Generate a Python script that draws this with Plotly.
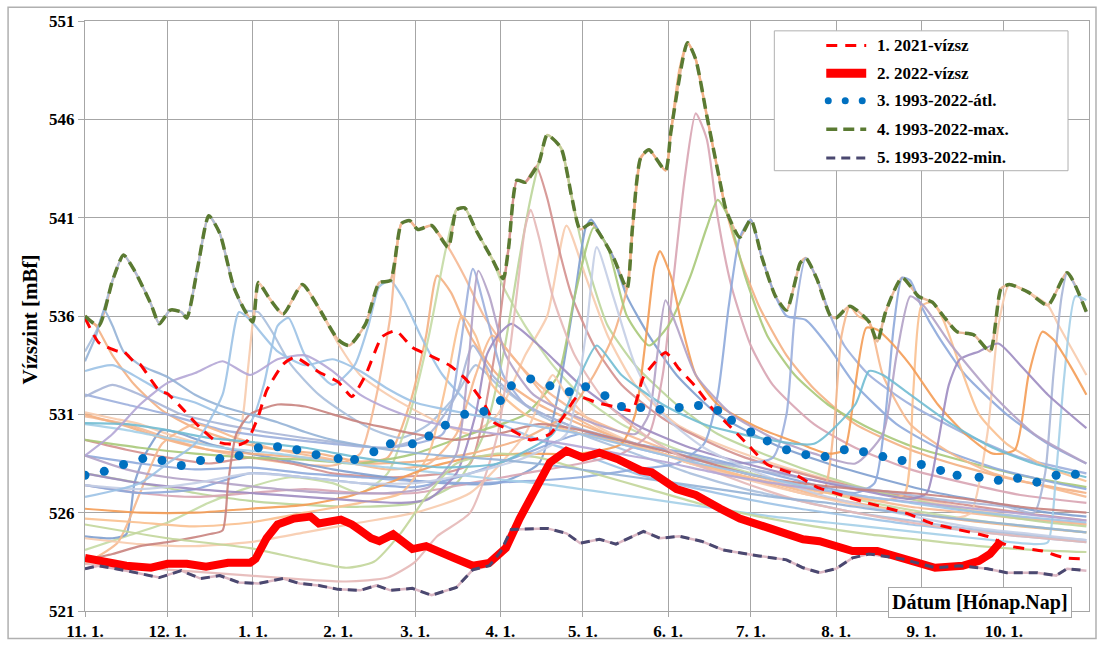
import pandas as pd
import plotly.graph_objects as go

# ---------------- data (day 0 = Nov 1, hydrological year) ----------------
START = "2021-11-01"
MONTH_LABELS = ["11. 1.", "12. 1.", "1. 1.", "2. 1.", "3. 1.", "4. 1.",
                "5. 1.", "6. 1.", "7. 1.", "8. 1.", "9. 1.", "10. 1."]
Y_TICKS = [521, 526, 531, 536, 541, 546, 551]

# 2021 water level
D2021 = [0, 5, 12, 14, 18, 20, 24, 27, 30, 36, 42, 48, 56, 59, 63, 66, 72, 76, 78, 85, 92, 97,
         102, 108, 113, 119, 126, 133, 139, 145, 149, 155, 162, 169, 174, 179, 186, 192, 199,
         203, 211, 216, 222, 228, 234, 241, 248, 258, 266, 275, 283, 299, 308, 317, 328, 336,
         348, 356, 363]
V2021 = [535.9, 534.65, 534.2, 534.2, 533.65, 533.55, 532.75, 532.2, 532.05, 531.2, 530.3, 529.6,
         529.45, 529.65, 530.9, 532.2, 533.55, 533.9, 533.8, 533.15, 532.65, 531.9, 533.0, 534.95,
         535.25, 534.4, 533.95, 533.45, 532.7, 531.55, 530.55, 530.2, 529.7, 530.0, 530.9, 531.9,
         531.6, 531.4, 531.2, 532.9, 534.15, 533.3, 532.4, 531.3, 530.45, 529.45, 528.45, 527.95,
         527.3, 526.9, 526.55, 525.95, 525.45, 525.15, 524.8, 524.3, 524.05, 523.7, 523.65]

# 2022 water level
D2022 = [0, 5, 15, 24, 30, 37, 44, 52, 60, 62, 66, 70, 76, 82, 85, 93, 97, 100, 104, 107, 112,
         119, 124, 134, 141, 147, 153, 158, 164, 169, 175, 181, 187, 194, 202, 206, 215, 222,
         231, 238, 249, 261, 267, 279, 288, 297, 309, 319, 325, 329, 331, 333]
V2022 = [523.7, 523.55, 523.3, 523.2, 523.4, 523.4, 523.25, 523.45, 523.45, 523.65, 524.7, 525.4,
         525.7, 525.8, 525.45, 525.65, 525.4, 525.1, 524.7, 524.55, 524.9, 524.15, 524.3, 523.7,
         523.3, 523.45, 524.2, 525.7, 527.2, 528.55, 529.15, 528.8, 529.05, 528.7, 528.15, 528.05,
         527.2, 526.9, 526.2, 525.7, 525.2, 524.65, 524.55, 524.05, 524.05, 523.7, 523.2, 523.3,
         523.55, 523.9, 524.3, 524.55]

# 1993-2022 average
DAVG = [0, 7, 14, 21, 28, 35, 42, 49, 56, 63, 70, 77, 84, 92, 98, 105, 111, 119, 125, 131, 138,
        145, 151, 155, 162, 169, 176, 182, 189, 195, 202, 209, 216, 223, 230, 235, 242, 248, 255,
        262, 269, 276, 283, 290, 297, 304, 311, 317, 325, 332, 339, 346, 353, 360]
VAVG = [527.9, 528.1, 528.45, 528.75, 528.65, 528.4, 528.65, 528.75, 528.9, 529.3, 529.35, 529.2,
        528.95, 528.75, 528.7, 529.1, 529.5, 529.5, 529.9, 530.45, 531.0, 531.15, 531.7, 532.45,
        532.8, 532.45, 532.15, 532.4, 531.95, 531.4, 531.35, 531.25, 531.35, 531.45, 531.2, 530.7,
        530.1, 529.65, 529.2, 528.95, 528.85, 529.2, 529.1, 528.85, 528.65, 528.45, 528.15, 527.9,
        527.8, 527.65, 527.75, 527.55, 527.9, 527.95]

# 1993-2022 maximum
DMAX = [0, 5, 10, 14, 18, 24, 27, 31, 35, 37, 41, 45, 49, 54, 58, 61, 63, 67, 72, 79, 85, 92, 96,
        102, 107, 111, 115, 118, 121, 126, 132, 135, 138, 142, 148, 152, 154, 157, 160, 165, 168,
        173, 177, 180, 184, 192, 197, 199, 202, 205, 211, 213, 219, 222, 226, 231, 233, 238, 242,
        246, 251, 255, 260, 262, 266, 271, 273, 278, 285, 288, 291, 297, 303, 308, 312, 317, 323,
        329, 333, 336, 343, 350, 357, 364]
VMAX = [536.0, 535.5, 537.8, 539.1, 538.3, 536.6, 535.6, 536.3, 536.2, 535.9, 538.5, 541.1, 540.2,
        537.5, 536.3, 535.7, 537.7, 536.9, 536.1, 537.6, 536.4, 534.8, 534.5, 535.6, 537.7, 537.8,
        540.7, 540.85, 540.4, 540.6, 539.5, 541.4, 541.5, 540.4, 538.9, 537.9, 539.5, 542.9, 542.8,
        543.8, 545.2, 544.55, 542.0, 540.4, 540.7, 539.0, 537.4, 540.5, 544.05, 544.45, 543.4,
        545.4, 549.9, 549.05, 546.2, 542.7, 541.4, 540.0, 540.9, 539.0, 537.0, 536.3, 538.7,
        538.95, 537.9, 536.0, 535.9, 536.5, 535.7, 534.7, 536.2, 537.95, 537.0, 536.7, 536.0,
        535.2, 535.05, 534.2, 537.4, 537.6, 537.2, 536.55, 538.2, 536.2]

# 1993-2022 minimum
DMIN = [0, 5, 15, 27, 35, 42, 49, 56, 63, 72, 78, 85, 92, 100, 106, 111, 119, 126, 135, 141, 147,
        151, 155, 163, 168, 175, 180, 187, 193, 203, 209, 216, 224, 232, 238, 245, 255, 261, 267,
        273, 279, 285, 297, 309, 318, 328, 335, 346, 353, 357, 364]
VMIN = [523.15, 523.3, 523.05, 522.7, 523.05, 522.65, 522.8, 522.45, 522.4, 522.65, 522.4, 522.3,
        522.1, 522.05, 522.3, 522.05, 522.15, 521.8, 522.2, 523.1, 523.3, 524.0, 525.15, 525.2,
        525.2, 524.95, 524.45, 524.65, 524.4, 525.05, 524.7, 524.8, 524.55, 524.1, 523.95, 523.8,
        523.6, 523.2, 522.95, 523.15, 523.7, 523.9, 523.65, 523.2, 523.3, 523.15, 522.95, 522.95,
        522.8, 523.15, 523.05]

# individual years 1993-2020 (background lines)
L01_D = [0, 4, 10, 18, 28, 40, 55, 70, 85, 100, 110, 118, 124, 128, 133, 140, 150, 165, 180, 200, 220, 240, 260, 280, 300, 320, 340, 364]
L01_V = [536.0, 535.5, 534.0, 532.5, 531.2, 530.3, 529.6, 529.2, 529.0, 528.6, 528.8, 531.5, 535.0, 538.05, 537.2, 535.0, 533.0, 531.5, 530.5, 529.5, 528.5, 527.8, 527.0, 526.5, 526.0, 525.6, 525.3, 525.0]
L02_D = [0, 5, 10, 14, 18, 24, 27, 31, 35, 37, 41, 45, 49, 54, 58, 63, 68, 75, 85, 95, 105, 115, 125, 135, 142, 150, 165, 180, 200, 220, 240, 260, 280, 300, 320, 340, 364]
L02_V = [534.2, 535.5, 537.8, 539.1, 538.3, 536.6, 535.6, 536.3, 536.2, 535.9, 538.5, 541.1, 540.2, 537.5, 536.3, 536.2, 535.2, 533.5, 532.0, 531.0, 530.2, 529.8, 530.5, 532.0, 533.5, 532.5, 531.0, 530.0, 529.0, 528.0, 527.2, 526.6, 526.0, 525.6, 525.2, 524.9, 524.6]
L03_D = [0, 10, 20, 30, 40, 50, 56, 59, 61, 63, 67, 72, 79, 85, 92, 100, 110, 120, 130, 140, 150, 160, 168, 175, 182, 190, 200, 215, 230, 250, 270, 290, 310, 330, 350, 364]
L03_V = [531.1, 530.8, 530.5, 530.0, 529.6, 529.4, 530.0, 533.0, 535.7, 537.7, 536.9, 536.1, 537.6, 536.4, 534.6, 533.0, 532.0, 531.2, 530.5, 530.0, 531.0, 534.0, 536.0, 540.6, 538.0, 535.0, 532.5, 530.5, 529.5, 528.5, 527.7, 527.0, 526.5, 526.0, 525.6, 525.4]
L04_D = [0, 10, 20, 30, 40, 50, 60, 65, 70, 74, 80, 90, 98, 103, 107, 111, 116, 122, 130, 140, 150, 165, 180, 200, 220, 240, 260, 280, 300, 320, 340, 364]
L04_V = [533.2, 533.5, 532.8, 532.0, 531.6, 531.0, 530.6, 532.5, 535.5, 535.9, 534.0, 532.5, 533.5, 535.5, 537.5, 537.8, 536.8, 535.0, 533.0, 531.5, 530.6, 529.7, 529.0, 528.0, 527.3, 526.7, 526.2, 525.8, 525.4, 525.1, 524.8, 524.5]
L05_D = [0, 15, 30, 45, 60, 75, 90, 100, 106, 111, 115, 118, 121, 126, 132, 138, 145, 155, 165, 180, 200, 220, 240, 260, 280, 300, 320, 340, 364]
L05_V = [530.9, 530.5, 529.8, 529.2, 528.8, 528.5, 528.4, 529.0, 532.0, 536.0, 540.7, 540.85, 540.4, 540.6, 539.5, 538.0, 536.0, 534.0, 532.5, 531.0, 529.8, 528.8, 528.0, 527.3, 526.8, 526.3, 526.0, 525.7, 525.4]
L06_D = [0, 15, 30, 45, 60, 75, 90, 100, 110, 118, 125, 131, 135, 138, 142, 148, 152, 160, 170, 180, 195, 210, 230, 250, 270, 290, 310, 330, 350, 364]
L06_V = [524.1, 524.8, 525.5, 526.5, 527.3, 527.8, 527.5, 527.0, 528.0, 531.0, 535.0, 539.3, 541.4, 541.5, 540.4, 538.9, 537.5, 535.5, 533.5, 532.0, 530.5, 529.5, 528.5, 527.7, 527.0, 526.4, 525.9, 525.5, 525.2, 525.0]
L07_D = [0, 15, 30, 45, 60, 75, 90, 110, 130, 140, 145, 150, 154, 157, 160, 164, 168, 173, 177, 185, 195, 210, 225, 240, 260, 280, 300, 320, 340, 364]
L07_V = [529.7, 529.2, 528.8, 528.5, 528.8, 528.5, 528.0, 527.8, 528.0, 528.5, 531.0, 535.0, 539.5, 542.9, 542.8, 543.6, 542.0, 539.0, 537.0, 534.5, 532.5, 530.8, 529.7, 528.8, 528.0, 527.3, 526.8, 526.4, 526.0, 525.6]
L08_D = [0, 20, 40, 60, 80, 100, 120, 135, 145, 152, 158, 162, 165, 168, 173, 177, 180, 185, 190, 200, 215, 230, 250, 270, 290, 310, 330, 350, 364]
L08_V = [528.0, 527.5, 527.0, 526.6, 526.4, 526.3, 526.5, 527.5, 530.0, 534.0, 539.0, 542.0, 543.8, 545.2, 544.55, 542.0, 540.0, 537.5, 535.5, 533.5, 531.5, 530.0, 528.8, 527.8, 527.0, 526.4, 525.9, 525.5, 525.3]
L09_D = [0, 10, 15, 18, 22, 28, 35, 45, 60, 75, 90, 110, 130, 150, 165, 172, 178, 182, 184, 188, 192, 197, 205, 215, 230, 250, 270, 290, 310, 330, 350, 364]
L09_V = [524.8, 524.7, 524.9, 527.5, 529.0, 530.2, 530.0, 529.5, 529.0, 528.6, 528.2, 527.8, 527.5, 527.5, 528.5, 532.0, 537.0, 540.5, 540.9, 540.0, 539.0, 537.0, 535.0, 533.0, 531.0, 529.5, 528.5, 527.7, 527.0, 526.5, 526.0, 525.8]
L10_D = [0, 15, 30, 45, 60, 80, 100, 120, 140, 160, 175, 185, 192, 197, 202, 205, 211, 213, 216, 219, 222, 226, 231, 233, 238, 245, 255, 265, 280, 300, 320, 340, 364]
L10_V = [531.0, 530.4, 529.7, 529.2, 529.0, 528.8, 528.5, 528.6, 529.0, 529.8, 531.0, 533.0, 535.0, 537.4, 544.0, 544.45, 543.4, 545.4, 548.5, 549.9, 549.05, 546.2, 542.7, 541.4, 539.0, 536.5, 534.0, 532.3, 530.5, 529.2, 528.3, 527.6, 527.0]
L11_D = [0, 20, 40, 60, 80, 100, 120, 140, 160, 180, 195, 205, 210, 214, 218, 222, 226, 230, 235, 242, 250, 265, 280, 300, 320, 340, 364]
L11_V = [527.4, 527.0, 526.8, 527.0, 527.2, 527.0, 527.0, 527.5, 528.0, 528.5, 529.0, 530.0, 533.0, 538.0, 543.0, 546.3, 545.0, 541.0, 537.5, 534.5, 532.5, 530.5, 529.3, 528.2, 527.5, 526.9, 526.5]
L12_D = [0, 20, 40, 60, 80, 100, 120, 140, 160, 172, 178, 185, 190, 197, 205, 212, 220, 226, 230, 234, 240, 248, 258, 270, 285, 300, 320, 340, 364]
L12_V = [529.7, 529.3, 529.0, 528.8, 528.7, 528.5, 529.0, 530.0, 531.0, 533.0, 537.0, 540.5, 539.5, 536.0, 534.5, 535.5, 538.0, 540.5, 541.9, 541.0, 538.0, 535.0, 533.0, 531.5, 530.3, 529.4, 528.6, 527.9, 527.3]
L13_D = [0, 20, 40, 60, 80, 100, 120, 140, 160, 180, 200, 215, 225, 230, 234, 238, 242, 246, 251, 255, 262, 270, 280, 295, 310, 330, 350, 364]
L13_V = [528.9, 528.5, 528.2, 528.3, 528.0, 527.8, 527.6, 527.5, 527.6, 527.8, 528.2, 528.5, 529.5, 532.0, 536.5, 540.0, 540.9, 539.0, 537.0, 536.0, 535.8, 534.5, 532.5, 530.5, 529.3, 528.3, 527.6, 527.2]
L14_D = [0, 15, 30, 50, 70, 90, 110, 130, 136, 141, 146, 152, 160, 175, 195, 215, 235, 250, 255, 258, 262, 266, 271, 276, 285, 300, 320, 340, 364]
L14_V = [532.0, 531.5, 531.0, 530.2, 529.8, 529.5, 529.3, 530.0, 534.0, 538.4, 536.0, 533.0, 531.5, 530.5, 529.5, 528.8, 528.5, 528.8, 531.0, 536.0, 538.95, 537.9, 536.0, 534.5, 533.0, 531.5, 530.0, 528.8, 528.0]
L15_D = [0, 12, 20, 28, 40, 55, 70, 90, 110, 125, 135, 142, 148, 158, 170, 190, 210, 230, 250, 268, 272, 275, 278, 281, 285, 290, 300, 315, 330, 350, 364]
L15_V = [523.4, 524.5, 527.0, 529.5, 530.5, 529.8, 529.2, 528.7, 528.2, 528.5, 530.0, 533.0, 535.0, 533.5, 531.5, 530.0, 529.0, 528.2, 527.5, 527.0, 530.0, 535.0, 536.5, 536.0, 535.7, 533.0, 530.5, 529.0, 528.0, 527.3, 526.8]
L16_D = [0, 20, 40, 60, 80, 100, 120, 140, 160, 180, 200, 220, 240, 260, 280, 287, 291, 294, 297, 300, 304, 310, 320, 335, 350, 364]
L16_V = [527.4, 527.0, 527.2, 528.0, 527.8, 527.5, 527.3, 528.0, 529.0, 530.0, 529.5, 529.0, 528.3, 527.6, 527.0, 527.5, 531.0, 535.5, 537.95, 537.8, 536.5, 535.0, 533.0, 531.0, 529.5, 528.5]
L17_D = [0, 20, 40, 60, 80, 100, 115, 125, 132, 137, 142, 148, 160, 175, 190, 210, 230, 250, 270, 290, 298, 301, 304, 308, 312, 318, 325, 335, 350, 364]
L17_V = [525.7, 525.5, 525.3, 525.5, 526.0, 526.5, 527.0, 529.0, 533.0, 536.0, 535.0, 532.5, 531.0, 530.2, 529.7, 529.0, 528.2, 527.5, 527.0, 526.6, 527.0, 532.0, 536.5, 536.7, 535.8, 533.5, 531.0, 529.5, 528.3, 527.6]
L18_D = [0, 20, 40, 60, 80, 100, 120, 140, 160, 170, 175, 185, 200, 220, 240, 260, 280, 300, 315, 322, 328, 332, 336, 343, 350, 354, 360, 364]
L18_V = [524.7, 524.4, 524.3, 524.5, 525.0, 525.5, 526.0, 527.0, 530.0, 533.0, 532.0, 530.5, 529.5, 528.5, 527.7, 527.0, 526.4, 526.0, 525.7, 526.0, 530.0, 535.5, 537.6, 537.2, 536.55, 535.5, 534.0, 533.0]
L19_D = [0, 10, 20, 35, 50, 70, 90, 110, 125, 135, 141, 148, 160, 175, 195, 215, 235, 255, 275, 295, 315, 335, 345, 349, 352, 355, 357, 360, 364]
L19_V = [531.9, 532.5, 532.0, 531.0, 530.5, 530.0, 529.6, 529.3, 530.0, 532.0, 534.5, 533.0, 531.5, 530.5, 529.7, 529.0, 528.4, 527.9, 527.4, 527.0, 526.6, 526.3, 526.0, 528.0, 533.0, 537.0, 538.2, 537.5, 536.2]
L20_D = [0, 15, 30, 50, 70, 90, 110, 130, 150, 170, 190, 210, 230, 250, 270, 290, 310, 330, 345, 350, 353, 356, 360, 364]
L20_V = [530.5, 530.2, 529.8, 529.3, 529.0, 528.6, 528.3, 528.0, 527.7, 527.4, 527.0, 526.6, 526.2, 525.8, 525.5, 525.2, 524.9, 524.6, 524.4, 524.5, 528.0, 533.0, 537.0, 536.8]
L21_D = [0, 20, 40, 60, 80, 95, 110, 125, 140, 160, 180, 195, 200, 204, 207, 209, 213, 217, 222, 230, 245, 260, 270, 276, 280, 284, 288, 292, 300, 310, 320, 330, 338, 343, 348, 352, 358, 364]
L21_V = [526.2, 526.0, 526.0, 526.2, 526.4, 526.8, 527.5, 528.3, 528.8, 529.0, 529.0, 529.5, 531.0, 535.0, 538.5, 539.3, 538.0, 535.5, 533.0, 531.5, 530.3, 529.5, 529.0, 529.2, 532.5, 535.4, 535.3, 534.8, 533.5, 531.5, 530.0, 529.0, 529.2, 533.0, 535.2, 534.8, 533.5, 532.0]
L22_D = [0, 20, 40, 60, 80, 100, 115, 125, 135, 142, 146, 150, 155, 165, 180, 200, 220, 240, 260, 280, 300, 306, 310, 314, 318, 325, 332, 340, 350, 364]
L22_V = [528.0, 527.5, 527.2, 527.0, 526.8, 526.6, 526.5, 526.7, 528.0, 531.0, 534.0, 535.0, 535.6, 534.5, 532.5, 530.5, 529.3, 528.5, 527.8, 527.2, 526.7, 527.0, 529.5, 532.5, 533.8, 534.2, 534.6, 533.5, 532.0, 530.3]
L23_D = [0, 15, 30, 50, 70, 90, 110, 125, 135, 139, 143, 147, 153, 163, 180, 200, 205, 208, 211, 215, 222, 235, 250, 265, 280, 290, 295, 300, 305, 315, 330, 345, 364]
L23_V = [528.9, 528.2, 527.8, 527.5, 527.2, 527.0, 527.0, 527.3, 529.0, 533.0, 538.3, 537.0, 534.0, 532.0, 530.8, 530.0, 531.0, 534.0, 536.8, 535.5, 533.0, 531.0, 529.8, 529.0, 528.5, 530.0, 534.0, 537.0, 536.5, 534.5, 532.0, 530.0, 528.5]
L24_D = [0, 10, 20, 30, 45, 50, 52, 55, 60, 70, 80, 90, 100, 110, 120, 135, 150, 165, 180, 200, 220, 240, 260, 280, 300, 320, 340, 364]
L24_V = [523.6, 523.9, 524.3, 524.5, 524.9, 525.1, 527.5, 530.0, 531.0, 531.5, 531.4, 531.0, 530.6, 530.3, 530.0, 529.7, 530.0, 530.5, 530.2, 529.5, 528.8, 528.0, 527.5, 527.2, 527.0, 526.7, 526.3, 526.0]
L25_D = [0, 30, 60, 80, 95, 105, 115, 125, 135, 150, 165, 185, 205, 225, 245, 265, 285, 305, 325, 345, 364]
L25_V = [525.4, 524.7, 524.2, 523.6, 523.2, 523.5, 525.0, 527.0, 528.5, 529.0, 528.8, 528.0, 527.2, 526.4, 525.8, 525.3, 524.9, 524.6, 524.3, 524.1, 524.0]
L26_D = [0, 20, 40, 60, 80, 95, 110, 120, 128, 140, 150, 156, 160, 162, 165, 170, 178, 190, 205, 220, 240, 260, 280, 300, 320, 340, 364]
L26_V = [523.4, 523.2, 523.0, 522.8, 522.6, 522.5, 522.7, 523.5, 524.8, 526.0, 530.0, 536.0, 540.5, 541.4, 540.0, 537.0, 534.0, 531.5, 529.8, 528.6, 527.5, 526.6, 526.0, 525.5, 525.1, 524.8, 524.5]
L27_D = [0, 15, 30, 45, 60, 80, 100, 115, 130, 150, 170, 180, 186, 195, 210, 225, 245, 265, 280, 285, 290, 300, 315, 330, 345, 364]
L27_V = [530.55, 530.5, 530.2, 529.8, 529.6, 529.3, 528.8, 528.5, 528.3, 528.5, 530.0, 533.0, 534.5, 533.0, 531.5, 530.5, 529.8, 529.5, 531.5, 533.2, 533.0, 532.0, 530.5, 529.3, 528.5, 527.8]
L28_D = [0, 20, 40, 60, 80, 100, 120, 140, 160, 175, 182, 186, 192, 200, 210, 225, 245, 265, 285, 305, 325, 345, 364]
L28_V = [527.4, 527.2, 527.5, 528.0, 527.8, 527.5, 527.5, 528.0, 528.8, 530.0, 535.0, 539.5, 537.0, 533.5, 531.0, 529.3, 528.0, 527.0, 526.3, 525.7, 525.2, 524.9, 524.6]
L29_D = [0, 10, 20, 30, 40, 50, 60, 70, 80, 90, 100, 110, 120, 135, 150, 170, 190, 210, 230, 250, 270, 290, 310, 330, 350, 364]
L29_V = [528.9, 530.0, 531.5, 532.6, 533.1, 533.7, 533.0, 533.8, 534.0, 533.2, 532.0, 531.3, 530.8, 530.3, 530.0, 529.6, 529.1, 528.6, 528.0, 527.5, 527.1, 526.7, 526.4, 526.1, 525.8, 525.6]
L30_D = [0, 4, 7, 10, 14, 20, 30, 40, 50, 60, 70, 80, 90, 110, 130, 150, 170, 190, 210, 230, 250, 270, 290, 310, 330, 350, 364]
L30_V = [533.7, 535.0, 536.3, 535.5, 534.2, 533.5, 532.9, 532.0, 531.4, 531.0, 530.6, 530.1, 529.7, 529.2, 528.9, 528.7, 528.4, 528.0, 527.6, 527.2, 526.8, 526.5, 526.1, 525.8, 525.5, 525.2, 525.0]
L31_D = [0, 20, 30, 40, 50, 56, 60, 70, 80, 90, 100, 110, 120, 140, 160, 180, 200, 220, 240, 260, 280, 300, 320, 340, 364]
L31_V = [526.8, 527.5, 528.5, 529.5, 532.0, 536.2, 535.8, 534.2, 533.5, 533.8, 533.2, 532.3, 531.6, 531.0, 530.5, 530.0, 529.3, 528.6, 528.0, 527.4, 526.9, 526.5, 526.1, 525.8, 525.5]

BG_DAYS = [L01_D, L02_D, L03_D, L04_D, L05_D, L06_D, L07_D, L08_D, L09_D, L10_D, L11_D, L12_D, L13_D, L14_D,
           L15_D, L16_D, L17_D, L18_D, L19_D, L20_D, L21_D, L22_D, L23_D, L24_D, L25_D, L26_D, L27_D, L28_D,
           L29_D, L30_D, L31_D]
BG_VALS = [L01_V, L02_V, L03_V, L04_V, L05_V, L06_V, L07_V, L08_V, L09_V, L10_V, L11_V, L12_V, L13_V, L14_V,
           L15_V, L16_V, L17_V, L18_V, L19_V, L20_V, L21_V, L22_V, L23_V, L24_V, L25_V, L26_V, L27_V, L28_V,
           L29_V, L30_V, L31_V]

LEGEND_TEXT = ["1. 2021-vízsz", "2. 2022-vízsz", "3. 1993-2022-átl.", "4. 1993-2022-max.", "5. 1993-2022-min."]

# ---------------- styles ----------------
BG_COLORS = ["#f4b183", "#a9bfdd", "#f8cbad", "#9dc3e6", "#f6b994", "#c5dba5", "#d4918f",
             "#bcd59a", "#7f9fd0", "#f4b183", "#d9a5b3", "#a9c97a", "#8faadc", "#9db0dd",
             "#f7b98e", "#8ea9db", "#fac090", "#f8cbad", "#a9b6d8", "#a5d0e8", "#f59d56",
             "#9e8cc2", "#b3a2c7", "#c9837f", "#c3d69b", "#e6b9b8", "#72bdd3", "#c5cfe6",
             "#b4a7d6", "#95b3d7", "#9dc3e6"]
SERIF = "Liberation Serif"
GRID = "#a6a6a6"

L_PX, R_PX, T_PX, B_PX = 85, 1090, 21, 620


def to_dates(days):
    return pd.Timestamp(START) + pd.to_timedelta(pd.Series(days, dtype=float), unit="D")


def px_x(px):
    return (px - L_PX) / (R_PX - L_PX)


def px_y(py):
    return 1 - (py - T_PX) / (B_PX - T_PX)


fig = go.Figure()

# envelope underlays
fig.add_trace(go.Scatter(x=to_dates(DMAX), y=VMAX, mode="lines", line=dict(color="#e9b99a", width=2.5, shape="spline", smoothing=0.6), hoverinfo="skip"))
fig.add_trace(go.Scatter(x=to_dates(DMIN), y=VMIN, mode="lines", line=dict(color="#dcb8c4", width=2.5), hoverinfo="skip"))

for d, v, c in zip(BG_DAYS, BG_VALS, BG_COLORS):
    fig.add_trace(go.Scatter(x=to_dates(d), y=v, mode="lines",
                             line=dict(color=c, width=2.2, shape="spline", smoothing=0.6),
                             opacity=0.9, hoverinfo="skip"))

fig.add_trace(go.Scatter(x=to_dates(D2021), y=V2021, mode="lines", name=LEGEND_TEXT[0],
                         line=dict(color="#ff0000", width=3, dash="11px,8px", shape="spline", smoothing=0.5)))
fig.add_trace(go.Scatter(x=to_dates(D2022), y=V2022, mode="lines", name=LEGEND_TEXT[1],
                         line=dict(color="#ff0000", width=8)))
fig.add_trace(go.Scatter(x=to_dates(DAVG), y=VAVG, mode="markers", name=LEGEND_TEXT[2],
                         marker=dict(color="#0070c0", size=9)))
fig.add_trace(go.Scatter(x=to_dates(DMAX), y=VMAX, mode="lines", name=LEGEND_TEXT[3],
                         line=dict(color="#5a7a32", width=3.5, dash="11px,6px", shape="spline", smoothing=0.6)))
fig.add_trace(go.Scatter(x=to_dates(DMIN), y=VMIN, mode="lines", name=LEGEND_TEXT[4],
                         line=dict(color="#4a4870", width=3, dash="9px,6px")))

month_ticks = pd.date_range(START, periods=12, freq="MS")

shapes = []
annotations = []
# outer frame
shapes.append(dict(type="rect", xref="paper", yref="paper", x0=px_x(8), x1=px_x(1097), y0=px_y(648), y1=px_y(7),
                   line=dict(color="#b0b0b0", width=1.5), fillcolor="rgba(0,0,0,0)", layer="below"))
# legend box
shapes.append(dict(type="rect", xref="paper", yref="paper", x0=px_x(775), x1=px_x(1069), y0=px_y(173), y1=px_y(31),
                   line=dict(color="#b0b0b0", width=1), fillcolor="white", layer="above"))
rows = [46, 74, 102, 131, 160]
sym_styles = [dict(color="#ff0000", width=3, dash="11px,8px"), dict(color="#ff0000", width=9),
              None, dict(color="#5a7a32", width=3.5, dash="11px,6px"), dict(color="#4a4870", width=3, dash="9px,6px")]
for i, (ry, txt) in enumerate(zip(rows, LEGEND_TEXT)):
    if sym_styles[i] is not None:
        shapes.append(dict(type="line", xref="paper", yref="paper", x0=px_x(827), x1=px_x(867), y0=px_y(ry), y1=px_y(ry),
                           line=sym_styles[i], layer="above"))
    else:
        for cx in (829, 846, 863):
            shapes.append(dict(type="circle", xref="paper", yref="paper", xsizemode="pixel", ysizemode="pixel",
                               xanchor=px_x(cx), yanchor=px_y(ry), x0=-3.5, x1=3.5, y0=-3.5, y1=3.5,
                               fillcolor="#0070c0", line=dict(width=0), layer="above"))
    annotations.append(dict(xref="paper", yref="paper", x=px_x(876), y=px_y(ry), xanchor="left", yanchor="middle",
                            text=txt, showarrow=False, font=dict(family=SERIF, size=17, color="black", weight="bold")))

# axis titles
annotations.append(dict(xref="paper", yref="paper", x=px_x(981), y=px_y(611), xanchor="center", yanchor="middle",
                        text="Dátum [Hónap.Nap]", showarrow=False, bgcolor="white", bordercolor="#a6a6a6",
                        borderwidth=1, borderpad=3, font=dict(family=SERIF, size=20, color="black", weight="bold")))
annotations.append(dict(xref="paper", yref="paper", x=px_x(30), y=px_y(324), xanchor="center", yanchor="middle",
                        text="Vízszint [mBf]", textangle=-90, showarrow=False,
                        font=dict(family=SERIF, size=21, color="black", weight="bold")))

fig.update_layout(
    width=1101, height=652,
    margin=dict(l=L_PX, r=1101 - R_PX, t=T_PX, b=652 - B_PX),
    paper_bgcolor="white", plot_bgcolor="white",
    showlegend=False,
    shapes=shapes, annotations=annotations,
    xaxis=dict(
        type="date",
        range=[pd.Timestamp(START), pd.Timestamp(START) + pd.Timedelta(days=364.95)],
        tickvals=month_ticks, ticktext=MONTH_LABELS,
        showgrid=True, gridcolor=GRID, gridwidth=1,
        showline=True, linecolor=GRID, linewidth=1, mirror=True,
        ticks="outside", ticklen=5, tickcolor=GRID,
        tickfont=dict(family=SERIF, size=17, color="black", weight="bold"),
        zeroline=False,
    ),
    yaxis=dict(
        range=[521, 551], tickvals=Y_TICKS, ticktext=[str(t) for t in Y_TICKS],
        showgrid=True, gridcolor=GRID, gridwidth=1,
        showline=True, linecolor=GRID, linewidth=1, mirror=True,
        ticks="outside", ticklen=6, tickcolor=GRID,
        tickfont=dict(family=SERIF, size=17, color="black", weight="bold"),
        zeroline=False,
    ),
)

fig.write_html("out.html")
